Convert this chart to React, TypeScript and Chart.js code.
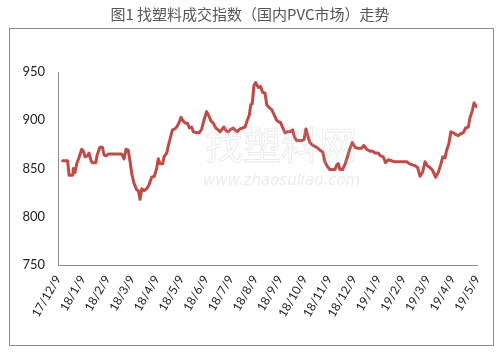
import React, { useEffect, useRef } from "react";
import { Chart, registerables } from "chart.js";

Chart.register(...registerables);

const titleText = "图1 找塑料成交指数（国内PVC市场）走势";

const monthLabels = [
  "17/12/9", "18/1/9", "18/2/9", "18/3/9", "18/4/9", "18/5/9", "18/6/9",
  "18/7/9", "18/8/9", "18/9/9", "18/10/9", "18/11/9", "18/12/9", "19/1/9",
  "19/2/9", "19/3/9", "19/4/9", "19/5/9",
];

// position in months since 17/12/9
const monthPos = [
  0.19, 0.39, 0.45, 0.60, 0.62, 0.69, 0.76, 0.86, 0.96, 1.03, 1.10, 1.19, 1.26, 1.33, 1.39, 1.53,
  1.59, 1.70, 1.80, 1.87, 1.95, 2.04, 2.58, 2.68, 2.76, 2.85, 2.92, 2.99, 3.08, 3.19, 3.26, 3.33,
  3.40, 3.49, 3.60, 3.69, 3.80, 3.91, 4.00, 4.07, 4.14, 4.25, 4.30, 4.41, 4.47, 4.54, 4.64, 4.75,
  4.84, 4.92, 4.99, 5.08, 5.18, 5.25, 5.33, 5.42, 5.49, 5.63, 5.73, 5.83, 5.92, 6.03, 6.13, 6.21,
  6.30, 6.40, 6.50, 6.57, 6.67, 6.73, 6.82, 6.91, 6.98, 7.11, 7.18, 7.27, 7.38, 7.49, 7.59, 7.68,
  7.76, 7.82, 7.88, 7.95, 8.02, 8.13, 8.22, 8.30, 8.40, 8.47, 8.57, 8.67, 8.76, 8.87, 8.98, 9.03,
  9.12, 9.21, 9.30, 9.41, 9.52, 9.59, 9.68, 9.89, 9.98, 10.06, 10.13, 10.22, 10.33, 10.43, 10.63, 10.74,
  10.83, 10.93, 11.03, 11.24, 11.31, 11.37, 11.44, 11.55, 11.64, 11.74, 11.85, 11.94, 12.05, 12.14, 12.32, 12.41,
  12.52, 12.66, 12.77, 12.86, 12.99, 13.09, 13.20, 13.29, 13.40, 13.54, 13.63, 14.15, 14.25, 14.35, 14.48, 14.59,
  14.69, 14.79, 14.89, 14.98, 15.09, 15.20, 15.32, 15.43, 15.54, 15.61, 15.70, 15.77, 15.86, 15.94, 16.04, 16.15,
  16.24, 16.34, 16.44, 16.54, 16.65, 16.71, 16.81, 16.88, 16.98,
];

const indexValues = [
  858, 858, 843, 843, 850, 846, 855, 862, 870, 868, 862, 863, 866, 859, 856, 856,
  864, 872, 872, 864, 863, 865, 865, 860, 870, 869, 858, 845, 835, 828, 827, 818,
  829, 827, 829, 833, 841, 842, 850, 860, 855, 855, 862, 866, 873, 880, 890, 891,
  894, 898, 903, 899, 897, 897, 892, 893, 888, 887, 887, 891, 900, 909, 904, 899,
  897, 892, 890, 888, 891, 893, 889, 888, 890, 892, 890, 888, 891, 892, 893, 900,
  905, 916, 917, 936, 939, 934, 935, 929, 928, 916, 913, 911, 906, 900, 898, 898,
  892, 887, 888, 888, 890, 883, 879, 879, 880, 891, 884, 877, 874, 873, 869, 867,
  857, 852, 849, 849, 854, 855, 849, 849, 854, 862, 871, 877, 872, 871, 871, 874,
  870, 868, 868, 866, 866, 863, 862, 856, 859, 858, 857, 857, 855, 854, 853, 851,
  842, 846, 857, 853, 851, 848, 841, 846, 855, 862, 861, 869, 876, 888, 887, 885,
  884, 886, 887, 892, 893, 902, 910, 918, 914,
];

const framePlugin = {
  id: "frameAndTitle",
  beforeDraw(chart: any) {
    const ctx = chart.ctx;
    ctx.save();
    ctx.fillStyle = "#ffffff";
    ctx.fillRect(0, 0, chart.width, chart.height);
    ctx.strokeStyle = "#8c8c8c";
    ctx.lineWidth = 1;
    ctx.strokeRect(9.5, 28.5, 484, 317);
    ctx.fillStyle = "#555555";
    ctx.font = '15px "Noto Sans CJK SC"';
    ctx.textAlign = "center";
    ctx.textBaseline = "middle";
    ctx.fillText(titleText, 250, 14);
    ctx.restore();
  },
  afterDatasetsDraw(chart: any) {
    const ctx = chart.ctx;
    ctx.save();
    ctx.fillStyle = "rgba(190,190,190,0.3)";
    ctx.font = 'italic 15px "DejaVu Sans"';
    ctx.textAlign = "left";
    ctx.textBaseline = "middle";
    ctx.fillText("www.zhaosuliao.com", 203, 181);
    ctx.strokeStyle = "rgba(190,190,190,0.3)";
    ctx.lineWidth = 1;
    ctx.font = '38px "Noto Sans CJK SC"';
    ctx.strokeText("找塑料网", 205, 145);
    ctx.restore();
  },
};

export default function App() {
  const ref = useRef<HTMLCanvasElement>(null);
  useEffect(() => {
    if (!ref.current) return;
    const chart = new Chart(ref.current, {
      type: "line",
      data: {
        datasets: [
          {
            data: monthPos.map((x, i) => ({ x, y: indexValues[i] })),
            borderColor: "#BE4B48",
            borderWidth: 3,
            pointRadius: 0,
            tension: 0,
            borderJoinStyle: "round",
            borderCapStyle: "round",
          },
        ],
      },
      options: {
        animation: false,
        responsive: false,
        devicePixelRatio: 1,
        layout: { padding: { left: 8, right: 27, top: 72, bottom: 11 } },
        plugins: { legend: { display: false }, tooltip: { enabled: false }, title: { display: false } },
        scales: {
          x: {
            type: "linear",
            min: 0,
            max: 17,
            grid: { display: true, drawOnChartArea: false, drawTicks: false },
            border: { display: true, color: "#8c8c8c", width: 1 },
            ticks: {
              stepSize: 1,
              autoSkip: false,
              minRotation: 60,
              maxRotation: 60,
              padding: 8,
              color: "#222222",
              font: { family: "Lato", size: 12 },
              callback: (v: any) => monthLabels[Math.round(Number(v))] ?? "",
            },
            afterFit: (s: any) => { s.height = 80; },
          },
          y: {
            min: 750,
            max: 950,
            grid: { display: true, drawOnChartArea: false, drawTicks: false },
            border: { display: true, color: "#8c8c8c", width: 1 },
            ticks: {
              stepSize: 50,
              padding: 13,
              color: "#222222",
              font: { family: "Lato", size: 13 },
            },
            afterFit: (s: any) => { s.width = 50; },
          },
        },
      },
      plugins: [framePlugin],
    });
    return () => chart.destroy();
  }, []);
  return (
    <canvas
      ref={ref}
      width={504}
      height={356}
      style={{ position: "absolute", left: 0, top: 0, width: 504, height: 356 }}
    />
  );
}
